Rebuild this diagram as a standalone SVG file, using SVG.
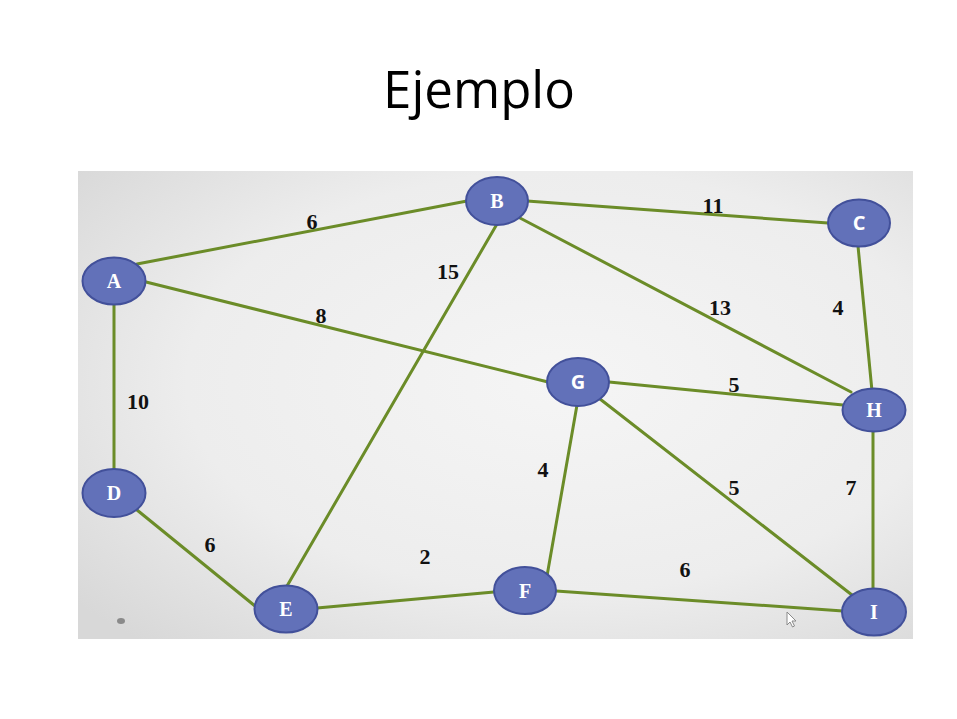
<svg xmlns="http://www.w3.org/2000/svg" width="957" height="719" viewBox="0 0 957 719">
<defs>
<radialGradient id="bg" cx="0.58" cy="0.45" r="0.75">
<stop offset="0" stop-color="#f5f5f5"/>
<stop offset="0.6" stop-color="#ededed"/>
<stop offset="1" stop-color="#d8d8d8"/>
</radialGradient>
<style>
.edge{stroke:#6b8c28;stroke-width:3;stroke-linecap:round;fill:none}
.node ellipse{fill:#6271b9;stroke:#42509a;stroke-width:2}
.node text{fill:#ffffff;font-family:"Liberation Serif",serif;font-weight:bold;font-size:20px;text-anchor:middle}
.node text.sans{font-family:"Open Sans","Liberation Sans",sans-serif;font-size:20px}
.w{font-family:"Liberation Serif",serif;font-weight:bold;font-size:22px;fill:#111111;text-anchor:middle}
.title{font-family:"Open Sans","Liberation Sans",sans-serif;font-size:51px;fill:#000000;text-anchor:middle}
</style>
</defs>
<rect width="957" height="719" fill="#ffffff"/>
<text class="title" x="479" y="108">Ejemplo</text>
<rect x="78" y="171" width="835" height="468" fill="url(#bg)"/>
<ellipse cx="121" cy="621" rx="4" ry="3" fill="#8a8a8a"/>
<g id="connectors">
<line class="edge" x1="137" y1="264" x2="467" y2="201"/>
<line class="edge" x1="146" y1="282" x2="548" y2="382"/>
<line class="edge" x1="114" y1="304" x2="114" y2="469"/>
<line class="edge" x1="527" y1="201" x2="828" y2="223"/>
<line class="edge" x1="497" y1="224" x2="287" y2="586"/>
<line class="edge" x1="520" y1="218" x2="851" y2="392"/>
<line class="edge" x1="858" y1="246" x2="872" y2="391"/>
<line class="edge" x1="609" y1="382" x2="843" y2="405"/>
<line class="edge" x1="600" y1="399" x2="852" y2="595"/>
<line class="edge" x1="873" y1="431" x2="873" y2="590"/>
<line class="edge" x1="137" y1="510" x2="255" y2="606"/>
<line class="edge" x1="317" y1="608" x2="494" y2="592"/>
<line class="edge" x1="556" y1="591" x2="843" y2="611"/>
<line class="edge" x1="577" y1="405" x2="547" y2="576"/>
</g>
<g id="weights">
<text class="w" x="312" y="229">6</text>
<text class="w" x="321" y="323">8</text>
<text class="w" x="448" y="279">15</text>
<text class="w" x="713" y="213">11</text>
<text class="w" x="720" y="315">13</text>
<text class="w" x="838" y="315">4</text>
<text class="w" x="138" y="409">10</text>
<text class="w" x="734" y="392">5</text>
<text class="w" x="543" y="477">4</text>
<text class="w" x="734" y="495">5</text>
<text class="w" x="851" y="495">7</text>
<text class="w" x="210" y="552">6</text>
<text class="w" x="425" y="564">2</text>
<text class="w" x="685" y="577">6</text>
</g>
<g id="node-A" class="node"><ellipse cx="114" cy="281" rx="31.5" ry="23.5"/><text x="114" y="288">A</text></g>
<g id="node-B" class="node"><ellipse cx="497" cy="201" rx="31" ry="24"/><text x="497" y="208">B</text></g>
<g id="node-C" class="node"><ellipse cx="859" cy="223" rx="31" ry="23.5"/><text class="sans" x="859" y="230">C</text></g>
<g id="node-D" class="node"><ellipse cx="114" cy="493" rx="31.5" ry="24"/><text x="114" y="500">D</text></g>
<g id="node-E" class="node"><ellipse cx="286" cy="609" rx="31.5" ry="23.5"/><text x="286" y="616">E</text></g>
<g id="node-F" class="node"><ellipse cx="525" cy="590.5" rx="31" ry="23.5"/><text x="525" y="597.5">F</text></g>
<g id="node-G" class="node"><ellipse cx="578" cy="382" rx="31" ry="24"/><text class="sans" x="578" y="389">G</text></g>
<g id="node-H" class="node"><ellipse cx="874" cy="410" rx="31.5" ry="21.5"/><text x="874" y="417">H</text></g>
<g id="node-I" class="node"><ellipse cx="874" cy="612" rx="32" ry="23.5"/><text x="874" y="619">I</text></g>
<path d="M787,612 L787,625 L790,622 L792.5,627 L794.5,626 L792,621 L796,621 Z" fill="#ffffff" stroke="#8a8a8a" stroke-width="1"/>
</svg>
